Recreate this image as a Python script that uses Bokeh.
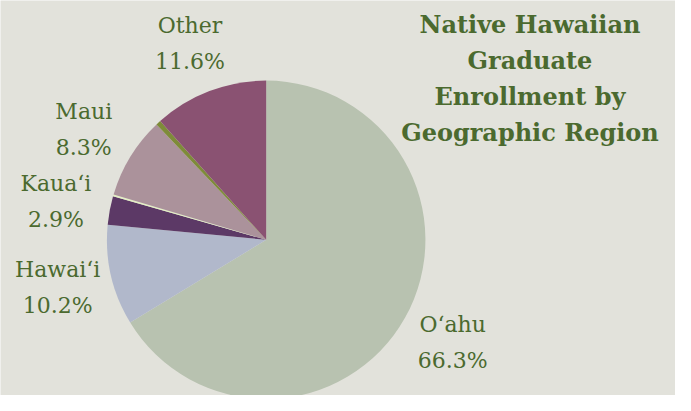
import math
from bokeh.plotting import figure
from bokeh.models import ColumnDataSource, Range1d
from bokeh.core.properties import value
from bokeh.embed import file_html
from bokeh.resources import INLINE

regions = ["Oʻahu", "Hawaiʻi", "Kauaʻi", "Lānaʻi", "Maui", "Molokaʻi", "Other"]
shares = [66.3, 10.2, 2.9, 0.2, 8.3, 0.5, 11.6]
labels = ["66.3%", "10.2%", "2.9%", "", "8.3%", "", "11.6%"]
colors = ["#b8c2b0", "#b1b8cb", "#5c3966", "#e4efc4", "#ab929b", "#7e8b39", "#8a5272"]
title_lines = ["Native Hawaiian", "Graduate", "Enrollment by", "Geographic Region"]

BG = "#e2e2db"
TXT = "#4b6a2f"
W, H = 675, 395
# data coords: x = reference x, y = 411 - reference y
cx, cy, r = 272, 411 - 249, 163
lab_r = 219

total = sum(shares)
starts, ends, lx, ly = [], [], [], []
acc = 0.0
for s in shares:
    a0 = math.pi / 2 - 2 * math.pi * acc / total
    a1 = math.pi / 2 - 2 * math.pi * (acc + s) / total
    starts.append(a1)
    ends.append(a0)
    mid = (a0 + a1) / 2
    lx.append(cx + lab_r * math.cos(mid))
    ly.append(cy + lab_r * math.sin(mid))
    acc += s

names = [n if l else "" for n, l in zip(regions, labels)]
src = ColumnDataSource(dict(start=starts, end=ends, color=colors,
                            lx=lx, ly=ly, name=names, pct=labels))

p = figure(width=W, height=H, output_backend="svg", toolbar_location=None,
           x_range=Range1d(0, 691), y_range=Range1d(0, 411),
           min_border=0)
p.axis.visible = False
p.grid.visible = False
p.outline_line_color = None
p.background_fill_color = BG
p.border_fill_color = BG

p.wedge(x=cx, y=cy, radius=r, start_angle="start", end_angle="end",
        fill_color="color", line_color=None, source=src)

font = value("DejaVu Serif")
p.text(x="lx", y="ly", text="name", source=src, text_font=font,
       text_font_size="22px", text_color=TXT, text_align="center",
       text_baseline="middle", y_offset=-18)
p.text(x="lx", y="ly", text="pct", source=src, text_font=font,
       text_font_size="22px", text_color=TXT, text_align="center",
       text_baseline="middle", y_offset=18)

tx = 542
ty0 = 411 - 25
for i, line in enumerate(title_lines):
    p.text(x=[tx], y=[ty0 - 37.5 * i], text=[line], text_font=font,
           text_font_size="24px", text_font_style="bold", text_color=TXT,
           text_align="center", text_baseline="middle")

open("out.html", "w").write(file_html(p, INLINE))
